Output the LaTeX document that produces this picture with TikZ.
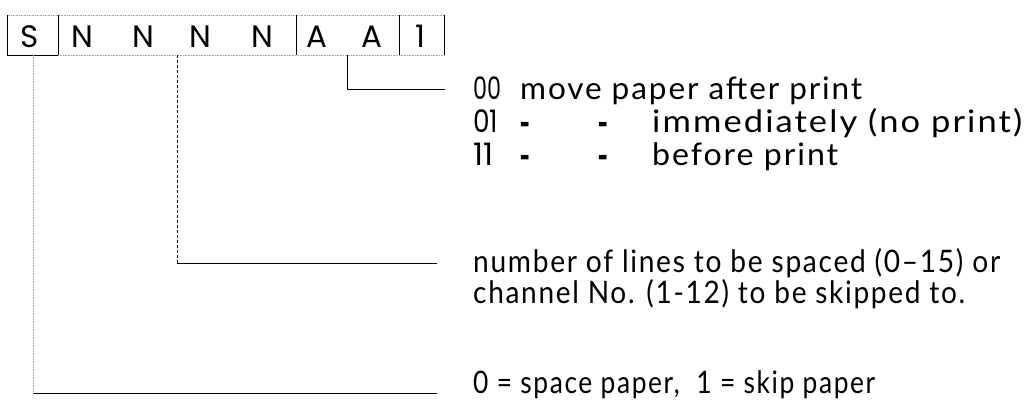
\documentclass[tikz,border=0pt]{standalone}
\usepackage{fontspec}
\usepackage{graphicx}
\setmainfont{Poppins}
\newfontfamily\rowfont[LetterSpace=6]{Lato}
\newcommand{\fitto}[2]{\resizebox{#1pt}{\height}{#2}}
\begin{document}
\begin{tikzpicture}[x=1pt,y=-1pt,
  txt/.style={anchor=base west,inner sep=0pt,font=\rowfont\fontsize{31}{32}\selectfont},
  dig/.style={anchor=base west,inner sep=0pt,font=\fontsize{31}{32}\selectfont},
  dsh/.style={anchor=base west,inner sep=0pt,font=\fontsize{31}{32}\selectfont\bfseries},
  let/.style={anchor=base,inner sep=0pt,font=\fontsize{31}{32}\selectfont},
  cell/.style={draw=none,inner sep=0pt,minimum height=40pt},
  lead/.style={line width=1pt},
  faint/.style={line width=0.6pt,gray!70,densely dotted},
  sep/.style={line width=1.2pt}]
\useasboundingbox (0,0) rectangle (1029,402);
% cells of the field
\node[cell,minimum width=50pt]  (cS) at (33,35) {};
\node[cell,minimum width=238pt] (cN) at (177,35) {};
\node[cell,minimum width=103pt] (cA) at (347.5,35) {};
\node[cell,minimum width=45pt]  (c1) at (421.5,35) {};
% letters
\node[let] (lS)  at (30,47) {S};
\node[let] (lN1) at (82,47) {N};
\node[let] (lN2) at (143,47) {N};
\node[let] (lN3) at (200,47) {N};
\node[let] (lN4) at (262,47) {N};
\node[let] (lA1) at (317,47) {A};
\node[let] (lA2) at (372,47) {A};
\node[let] (l1)  at (420,47) {1};
% box outline
\draw[faint] (cS.north west) -- (c1.north east);
\draw[faint] (cS.south east) -- (c1.south east);
\draw[sep] (cS.north west) -- (cS.south west) -- (cS.south east);
\draw[sep] (cS.north east) -- (cS.south east);
\draw[sep] (cN.north east) -- (cN.south east);
\draw[sep] (cA.north east) -- (cA.south east);
\draw[line width=0.8pt] (c1.north east) -- (c1.south east);
% texts
\node[dig] (t00) at (473,99) {\fitto{28}{00}};
\node[txt] (t00b) at (520,99) {\fitto{342}{move paper after print}};
\node[dig] (t01) at (473,132) {\fitto{25}{01}};
\node[dsh] (d1) at (520,135) {\fitto{10}{-}};
\node[dsh] (d2) at (598,135) {\fitto{10}{-}};
\node[txt] (t01b) at (652,132) {\fitto{370}{immediately (no print)}};
\node[dig] (t11) at (473,165) {\fitto{20}{11}};
\node[dsh] (d3) at (520,168) {\fitto{10}{-}};
\node[dsh] (d4) at (598,168) {\fitto{10}{-}};
\node[txt] (t11b) at (652,165) {\fitto{186}{before print}};
\node[txt] (tn1) at (473,272) {\fitto{527}{number of lines to be spaced (0–15) or}};
\node[txt] (tn2) at (473,303) {\fitto{492}{channel No. (1-12) to be skipped to.}};
\node[txt] (ts) at (473,393) {\fitto{402}{0 = space paper,\ \ 1 = skip paper}};
% end points of the leaders
\coordinate (eA) at (445,89);
\coordinate (eN) at (437,263);
\coordinate (eS) at (437,393);
% leaders
\draw[lead] (cA.south) |- (eA);
\draw[lead,densely dashed] (cN.south) -- (cN.south |- eN);
\draw[lead] (cN.south |- eN) -- (eN);
\draw[faint,line width=0.8pt] (cS.south) -- (cS.south |- eS);
\draw[lead] (cS.south |- eS) -- (eS);
\end{tikzpicture}
\end{document}
